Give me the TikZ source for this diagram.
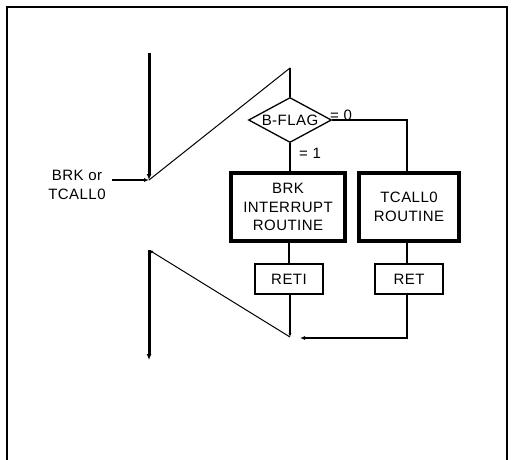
\documentclass[tikz,border=0pt]{standalone}
\usepackage{fontspec}
\setmainfont[LetterSpace=3]{Liberation Sans}
\usepackage{tikz}
\usetikzlibrary{shapes,arrows,arrows.meta,positioning}

\tikzset{
  routine/.style={draw, line width=3.2pt, minimum height=68pt, align=center, inner sep=0pt},
  retbox/.style={draw, line width=1.3pt, minimum width=68pt, minimum height=30pt, inner sep=0pt},
  flag/.style={draw, diamond, aspect=1.85, line width=1.3pt, minimum width=83pt, minimum height=45pt, inner sep=0pt},
  mainline/.style={line width=3pt, -{Latex[length=6pt,width=5pt]}},
  flow/.style={line width=1.3pt},
  jump/.style={line width=1pt}
}

\begin{document}
\begin{tikzpicture}[x=1pt, y=-1pt, font=\fontsize{15}{18.5}\selectfont]
    \useasboundingbox (0,0) rectangle (513,459);
    \draw[line width=1.5pt] (7,462) -- (7,7) -- (507,7) -- (507,462);

    % decision and routines
    \node[flag] (bflag) at (290,120) {B-FLAG};
    \node[routine, minimum width=114pt] (brk) at (288,207) {BRK\\INTERRUPT\\ROUTINE};
    \node[routine, minimum width=100pt] (tcall) at (409,207) {TCALL0\\ROUTINE};
    \node[retbox] (reti) at (289,279) {RETI};
    \node[retbox] (ret) at (409,279) {RET};
    \node[align=center] (src) at (77,185) {BRK or\\TCALL0};
    \node (zero) at (341,115) {= 0};
    \node (one) at (310,153) {= 1};

    \coordinate (in) at (149,53);
    \coordinate (enter) at (149,180);
    \coordinate (srcend) at (112,180);
    \coordinate (top) at (290,68);
    \coordinate (merge) at (290,337);
    \coordinate (back) at (149,250);
    \coordinate (out) at (149,360);
    \coordinate (corner) at (407,120);
    \coordinate (low) at (407,338);

    % main program
    \draw[mainline] (in) -- (enter);
    \draw[mainline] (back) -- (out);
    \draw[flow, -{Latex[length=5pt,width=4pt]}] (srcend) -- (enter);

    % into the routines
    \draw[jump] (enter) -- (top);
    \draw[flow] (top) -- (bflag.north);
    \draw[flow] (bflag.east) -- (corner) -- (tcall.north -| corner);
    \draw[flow] (bflag.south) -- (brk.north -| bflag.south);
    \draw[flow] (brk.south -| reti.north) -- (reti.north);
    \draw[flow] (tcall.south -| corner) -- (ret.north -| corner);

    % return
    \draw[flow, -{Latex[length=4pt,width=3pt]}] (reti.south -| merge) -- (merge);
    \draw[flow, -{Latex[length=5pt,width=4pt]}] (ret.south -| low) -- (low) -- ([xshift=10pt]merge |- low);
    \draw[jump, -{Latex[length=4pt,width=3pt]}] (merge) -- (back);
\end{tikzpicture}
\end{document}
